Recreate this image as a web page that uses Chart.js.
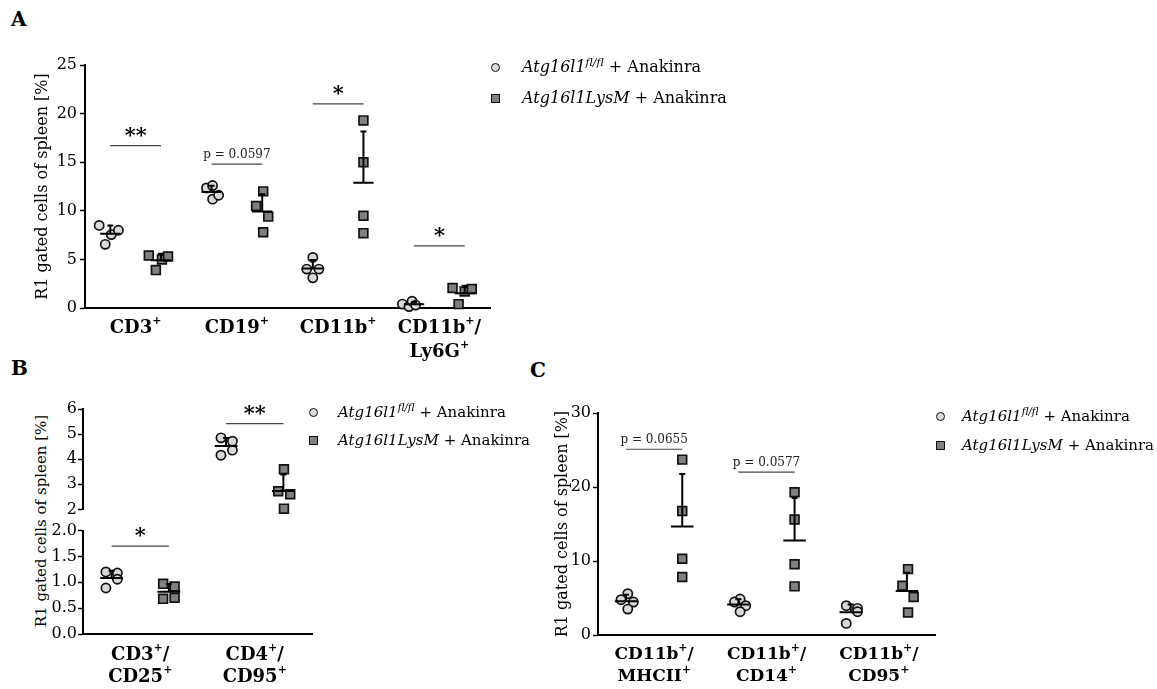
<!DOCTYPE html>
<html>
<head>
<meta charset="utf-8">
<script src="https://cdn.jsdelivr.net/npm/chart.js@4.4.1/dist/chart.umd.min.js"></script>
<style>
  html, body { margin: 0; padding: 0; background: #fff; }
  body { width: 1157px; height: 689px; position: relative; overflow: hidden;
         font-family: 'DejaVu Serif', serif; color: #000; }
  canvas { position: absolute; }
  .letter { position: absolute; font-weight: bold; font-size: 20px; line-height: 1; }
  .ytitle { position: absolute; white-space: nowrap; font-size: 15px;
            transform: translate(-50%, -50%) rotate(-90deg); }
  .legend { position: absolute; }
  .legend .row { position: absolute; left: 0; white-space: nowrap; line-height: 1; }
  .legend .mk { position: absolute; box-sizing: border-box; border: 1.5px solid #111; }
  .legend .circ { width: 9px; height: 9px; border-radius: 50%; background: #d9d9d9; }
  .legend .sq { width: 9px; height: 9px; background: #808080; }
  .legend .txt { position: absolute; transform: translateY(-50%); }
  .legend sup { font-size: 0.68em; vertical-align: 0.55em; line-height: 0; }
</style>
</head>
<body>
<div class="letter" style="left:11px; top:9px">A</div>
<div class="letter" style="left:11px; top:358px">B</div>
<div class="letter" style="left:530px; top:360px">C</div>
<div class="ytitle" style="left:41px; top:521px">R1 gated cells of spleen [%]</div>

<canvas id="chartA" width="520" height="370" style="left:0; top:0"></canvas>
<canvas id="chartBtop" width="330" height="140" style="left:0; top:380px"></canvas>
<canvas id="chartBbot" width="330" height="169" style="left:0; top:520px"></canvas>
<canvas id="chartC" width="410" height="309" style="left:540px; top:380px"></canvas>

<div id="legA" class="legend"></div>
<div id="legB" class="legend"></div>
<div id="legC" class="legend"></div>

<script>
// ===================================
// DATA
// ===================================

// Panel A
const catsA = [['CD3^+'], ['CD19^+'], ['CD11b^+'], ['CD11b^+/', 'Ly6G^+']];
const ctrlA = [[8.5, 6.55, 7.55, 8.0], [12.35, 12.6, 11.2, 11.6], [5.2, 4.0, 4.0, 3.1], [0.4, 0.15, 0.7, 0.3]];
const lysmA = [[5.4, 3.9, 5.0, 5.3], [12.0, 10.5, 9.4, 7.8], [19.3, 15.0, 9.5, 7.7], [2.05, 0.4, 1.7, 1.95]];
const ctrlJitterA = [[-0.22, -0.1, 0.02, 0.16], [-0.1, 0.02, 0.02, 0.14], [0, -0.12, 0.12, 0], [-0.23, -0.1, -0.04, 0.03]];
const lysmJitterA = [[-0.24, -0.1, 0.02, 0.14], [0.02, -0.12, 0.12, 0.02], [0, 0, 0, 0], [-0.24, -0.12, 0, 0.14]];
const sigTextA = ['**', 'p = 0.0597', '*', '*'];
const sigLevelA = [16.7, 14.8, 21.0, 6.4];
const ticksA = [0, 25, 5];

// Panel B (broken axis: 0-2 below, 2-6 above)
const catsB = [['CD3^+/', 'CD25^+'], ['CD4^+/', 'CD95^+']];
const ctrlB = [[1.2, 1.18, 0.89, 1.06], [4.85, 4.72, 4.16, 4.36]];
const lysmB = [[0.97, 0.92, 0.68, 0.70], [3.6, 2.72, 2.6, 2.03]];
const ctrlJitterB = [[-0.1, 0.1, -0.1, 0.1], [-0.09, 0.11, -0.09, 0.11]];
const lysmJitterB = [[-0.1, 0.1, -0.1, 0.1], [0.01, -0.09, 0.12, 0.01]];
const sigTextB = ['*', '**'];
const sigLevelB = [1.7, 5.42];
const ticksBtop = [2, 6, 1];
const ticksBbot = [0, 2, 0.5];

// Panel C
const catsC = [['CD11b^+/', 'MHCII^+'], ['CD11b^+/', 'CD14^+'], ['CD11b^+/', 'CD95^+']];
const ctrlC = [[5.58, 4.77, 4.45, 3.5], [4.86, 4.45, 3.96, 3.15], [3.96, 1.57, 3.6, 3.15]];
const lysmC = [[23.7, 16.75, 10.3, 7.85], [19.3, 15.6, 9.55, 6.57], [8.9, 6.66, 5.13, 3.05]];
const ctrlJitterC = [[0.03, -0.09, 0.13, 0.03], [0.03, -0.07, 0.13, 0.03], [-0.08, -0.08, 0.12, 0.12]];
const lysmJitterC = [[0, 0, 0, 0], [0, 0, 0, 0], [0.02, -0.08, 0.12, 0.02]];
const sigTextC = ['p = 0.0655', 'p = 0.0577', ''];
const sigLevelC = [25.1, 22.0, 0];
const ticksC = [0, 30, 10];

const seriesNames = ['Atg16l1<sup>fl/fl</sup>', 'Atg16l1LysM'];

// ===================================
// HELPERS
// ===================================
const FONT = 'DejaVu Serif';
const CIRCLE_FILL = '#d9d9d9';
const SQUARE_FILL = '#808080';
const EDGE = '#111';

const mean = a => a.reduce((s, v) => s + v, 0) / a.length;
const stdev = a => {
    const m = mean(a);
    return Math.sqrt(a.reduce((s, v) => s + (v - m) * (v - m), 0) / (a.length - 1));
};

/**
 * Monta os pontos de um grupo (0 = fl/fl, 1 = LysM) dentro da faixa [lo, hi]
 */
function buildPoints(groups, jitter, g, lo, hi) {
    const out = [];
    groups.forEach((vals, i) => vals.forEach((v, k) => {
        if (v >= lo && v <= hi) out.push({ x: i * 2 + g + jitter[i][k], y: v });
    }));
    return out;
}

/**
 * Texto com sobrescrito: "CD11b^+/" -> CD11b, + (sup), /
 */
function drawRich(ctx, str, cx, cy, size) {
    const parts = str.split('^');
    const segs = [{ t: parts[0], sup: false }];
    parts.slice(1).forEach(p => {
        segs.push({ t: p[0], sup: true });
        if (p.length > 1) segs.push({ t: p.slice(1), sup: false });
    });
    const base = `bold ${size}px "${FONT}"`;
    const small = `bold ${Math.round(size * 0.62)}px "${FONT}"`;
    let total = 0;
    segs.forEach(s => { ctx.font = s.sup ? small : base; s.w = ctx.measureText(s.t).width; total += s.w; });
    let x = cx - total / 2;
    ctx.textAlign = 'left';
    ctx.textBaseline = 'middle';
    segs.forEach(s => {
        ctx.font = s.sup ? small : base;
        ctx.fillText(s.t, x, s.sup ? cy - size * 0.38 : cy);
        x += s.w;
    });
}

/**
 * Plugin: média, DP, barras de significância e rótulos das categorias
 */
function panelPlugin(p) {
    return {
        id: 'panel',
        afterDatasetsDraw(chart) {
            const { ctx, scales: { x, y }, chartArea } = chart;
            const inRange = v => v >= y.min && v <= y.max;
            ctx.save();

            // média + DP (só para cima)
            [p.ctrl, p.lysm].forEach((groups, g) => {
                groups.forEach((vals, i) => {
                    const m = mean(vals);
                    if (!inRange(m)) return;
                    const pos = i * 2 + g;
                    const cx = x.getPixelForValue(pos);
                    const half = x.getPixelForValue(pos + 0.2) - cx;
                    const ym = y.getPixelForValue(m);
                    const yt = y.getPixelForValue(Math.min(m + stdev(vals), y.max));
                    ctx.strokeStyle = '#000';
                    ctx.lineWidth = 2;
                    ctx.beginPath();
                    ctx.moveTo(cx - half, ym); ctx.lineTo(cx + half, ym);
                    ctx.moveTo(cx, ym); ctx.lineTo(cx, yt);
                    ctx.moveTo(cx - 3, yt); ctx.lineTo(cx + 3, yt);
                    ctx.stroke();
                });
            });

            // significância
            p.sigText.forEach((t, i) => {
                const lv = p.sigLevel[i];
                if (!t || !inRange(lv)) return;
                const x1 = x.getPixelForValue(i * 2);
                const x2 = x.getPixelForValue(i * 2 + 1);
                const yy = y.getPixelForValue(lv);
                ctx.strokeStyle = '#444';
                ctx.lineWidth = 1.2;
                ctx.beginPath(); ctx.moveTo(x1, yy); ctx.lineTo(x2, yy); ctx.stroke();
                const star = t.indexOf('p') < 0;
                ctx.font = star ? `bold 21px "${FONT}"` : `12px "${FONT}"`;
                ctx.fillStyle = star ? '#000' : '#222';
                ctx.textAlign = 'center';
                ctx.textBaseline = 'alphabetic';
                ctx.fillText(t, (x1 + x2) / 2, yy - (star ? 4 : 6));
            });

            // rótulos do eixo x
            if (p.cats) {
                ctx.fillStyle = '#000';
                p.cats.forEach((lines, i) => {
                    const cx = x.getPixelForValue(i * 2 + 0.5);
                    lines.forEach((ln, k) => drawRich(ctx, ln, cx, chartArea.bottom + p.labelY[k], p.labelSize));
                });
            }
            ctx.restore();
        }
    };
}

/**
 * Cria um gráfico de pontos (um painel ou metade de um painel)
 */
function makeChart(id, p) {
    const [lo, hi, step] = p.ticks;
    const nSlots = p.ctrl.length * 2;
    const common = { showLine: false, clip: false, pointBorderColor: EDGE, pointBorderWidth: 1.7 };
    return new Chart(document.getElementById(id), {
        type: 'scatter',
        data: {
            datasets: [
                Object.assign({ data: buildPoints(p.ctrl, p.ctrlJitter, 0, lo, hi), pointStyle: 'circle',
                    pointRadius: 4.6, pointBackgroundColor: CIRCLE_FILL }, common),
                Object.assign({ data: buildPoints(p.lysm, p.lysmJitter, 1, lo, hi), pointStyle: 'rect',
                    pointRadius: 6.2, pointBackgroundColor: SQUARE_FILL }, common)
            ]
        },
        options: {
            responsive: false,
            animation: false,
            events: [],
            layout: { padding: p.padding },
            plugins: { legend: { display: false }, tooltip: { enabled: false } },
            scales: {
                x: {
                    type: 'linear', min: -0.5, max: nSlots - 0.5,
                    display: p.xAxis,
                    ticks: { display: false },
                    grid: { display: false, drawTicks: false },
                    border: { display: true, color: '#000', width: 2 },
                    afterFit: s => { s.height = 0; }
                },
                y: {
                    min: lo, max: hi,
                    ticks: {
                        stepSize: step, color: '#000', padding: p.tickPad,
                        font: { family: FONT, size: p.tickSize },
                        callback: v => step < 1 ? v.toFixed(1) : v
                    },
                    grid: { display: true, drawOnChartArea: false, drawTicks: true,
                            tickLength: 5, tickWidth: 1.5, tickColor: '#000' },
                    border: { display: true, color: '#000', width: 2 },
                    title: {
                        display: !!p.title, text: p.title || '', color: '#000',
                        font: { family: FONT, size: 16 }, padding: { top: 0, bottom: 0 }
                    },
                    afterFit: s => { s.width = p.yWidth; }
                }
            }
        },
        plugins: [panelPlugin(p)]
    });
}

/**
 * Legenda em HTML (itálico + sobrescrito)
 */
function makeLegend(id, cx, cy, gap, textDx, size) {
    const el = document.getElementById(id);
    el.style.left = cx + 'px';
    el.style.top = cy + 'px';
    el.style.fontSize = size + 'px';
    el.innerHTML = seriesNames.map((name, i) => `
        <div class="row" style="top:${i * gap}px">
            <span class="mk ${i === 0 ? 'circ' : 'sq'}" style="left:-4.5px; top:-4.5px"></span>
            <span class="txt" style="left:${textDx}px"><i>${name}</i> + Anakinra</span>
        </div>`).join('');
}

// ===================================
// PAINÉIS
// ===================================
makeChart('chartA', {
    ctrl: ctrlA, lysm: lysmA, ctrlJitter: ctrlJitterA, lysmJitter: lysmJitterA,
    sigText: sigTextA, sigLevel: sigLevelA, ticks: ticksA, cats: catsA,
    title: 'R1 gated cells of spleen [%]', yWidth: 52, tickSize: 16, tickPad: 3,
    xAxis: true, labelY: [20, 44], labelSize: 18,
    padding: { left: 33, top: 65, right: 30, bottom: 62 }
});

makeChart('chartBtop', {
    ctrl: ctrlB, lysm: lysmB, ctrlJitter: ctrlJitterB, lysmJitter: lysmJitterB,
    sigText: sigTextB, sigLevel: sigLevelB, ticks: ticksBtop, cats: null,
    title: '', yWidth: 43, tickSize: 16, tickPad: 1,
    xAxis: false,
    padding: { left: 40, top: 29, right: 18, bottom: 6 }
});

makeChart('chartBbot', {
    ctrl: ctrlB, lysm: lysmB, ctrlJitter: ctrlJitterB, lysmJitter: lysmJitterB,
    sigText: sigTextB, sigLevel: sigLevelB, ticks: ticksBbot, cats: catsB,
    title: '', yWidth: 43, tickSize: 16, tickPad: 1,
    xAxis: true, labelY: [21, 43], labelSize: 18,
    padding: { left: 40, top: 8, right: 18, bottom: 55 }
});

makeChart('chartC', {
    ctrl: ctrlC, lysm: lysmC, ctrlJitter: ctrlJitterC, lysmJitter: lysmJitterC,
    sigText: sigTextC, sigLevel: sigLevelC, ticks: ticksC, cats: catsC,
    title: 'R1 gated cells of spleen [%]', yWidth: 45, tickSize: 16, tickPad: 2,
    xAxis: true, labelY: [20, 42], labelSize: 17,
    padding: { left: 13, top: 33, right: 15, bottom: 54 }
});

makeLegend('legA', 495, 67, 31, 27, 16);
makeLegend('legB', 313, 412, 28, 25, 15);
makeLegend('legC', 940, 416, 29, 22, 15);
</script>
</body>
</html>
